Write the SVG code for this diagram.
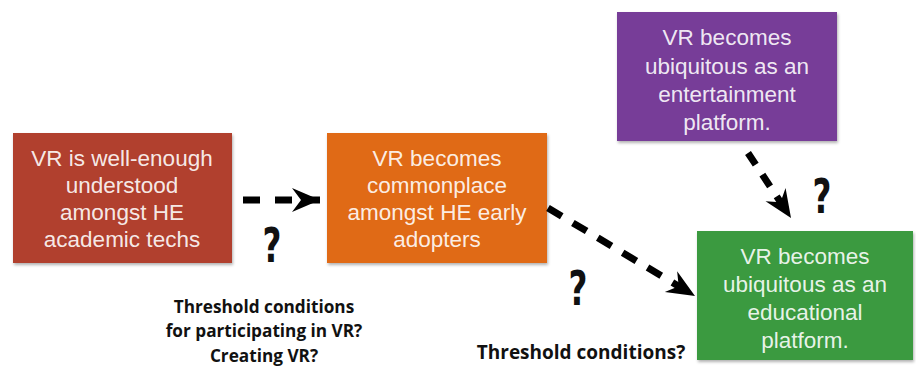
<svg xmlns="http://www.w3.org/2000/svg" width="916" height="372" viewBox="0 0 916 372">
<defs>
<filter id="sh" x="-5%" y="-5%" width="115%" height="115%"><feDropShadow dx="1" dy="2" stdDeviation="1.5" flood-color="#000" flood-opacity="0.3"/></filter>
<marker id="ah" markerUnits="userSpaceOnUse" markerWidth="32" markerHeight="28" viewBox="-30 -14 32 28" refX="0" refY="0" orient="auto"><path d="M0,0 L-28,-12 L-19,0 L-28,12 Z" fill="#000"/></marker>
</defs>
<style>
.box{filter:url(#sh)}
.bt{font-family:"Liberation Sans",Arial,sans-serif;font-size:22.5px;fill:#fff;text-anchor:middle;fill-opacity:0.9}
.lb{font-family:"Open Sans","Liberation Sans",sans-serif;font-weight:bold;font-size:17.2px;fill:#111;text-anchor:middle}
.q{font-family:"DejaVu Sans",sans-serif;font-weight:bold;font-size:48px;fill:#111;text-anchor:middle}
.ar{fill:none;stroke:#000;stroke-width:7;marker-end:url(#ah)}
</style>
<rect width="916" height="372" fill="#fff"/>
<g id="n1">
<rect class="box" x="13" y="133" width="219" height="130" fill="#b1402f"/>
<text class="bt" x="122" y="166">VR is well-enough</text>
<text class="bt" x="122" y="193">understood</text>
<text class="bt" x="122" y="220">amongst HE</text>
<text class="bt" x="122" y="247">academic techs</text>
</g>
<g id="n2">
<rect class="box" x="327" y="133" width="220" height="130" fill="#e06b12"/>
<text class="bt" x="437" y="166">VR becomes</text>
<text class="bt" x="437" y="193">commonplace</text>
<text class="bt" x="437" y="220">amongst HE early</text>
<text class="bt" x="437" y="247">adopters</text>
</g>
<g id="n3">
<rect class="box" x="617" y="12" width="220" height="129" fill="#773e98"/>
<text class="bt" x="727" y="45">VR becomes</text>
<text class="bt" x="727" y="74">ubiquitous as an</text>
<text class="bt" x="727" y="102">entertainment</text>
<text class="bt" x="727" y="130">platform.</text>
</g>
<g id="n4">
<rect class="box" x="697" y="231" width="216" height="129" fill="#3a9a3f"/>
<text class="bt" x="805" y="264">VR becomes</text>
<text class="bt" x="805" y="292">ubiquitous as an</text>
<text class="bt" x="805" y="320">educational</text>
<text class="bt" x="805" y="348">platform.</text>
</g>
<g id="connectors">
<path class="ar" d="M243,200 L320,200" stroke-dasharray="17 15"/>
<path class="ar" d="M548,208 L695,296" stroke-dasharray="16 13"/>
<path class="ar" d="M748,153 L791,218" stroke-dasharray="14 12"/>
</g>
<g id="labels">
<text class="q" transform="translate(272,262) scale(0.68,1)">?</text>
<text class="q" transform="translate(578,305) scale(0.68,1)">?</text>
<text class="q" transform="translate(822,213) scale(0.68,1)">?</text>
<text class="lb" x="264" y="313">Threshold conditions</text>
<text class="lb" x="264" y="337">for participating in VR?</text>
<text class="lb" x="264" y="362">Creating VR?</text>
<text class="lb" x="581" y="359" style="font-size:19px">Threshold conditions?</text>
</g>
</svg>
